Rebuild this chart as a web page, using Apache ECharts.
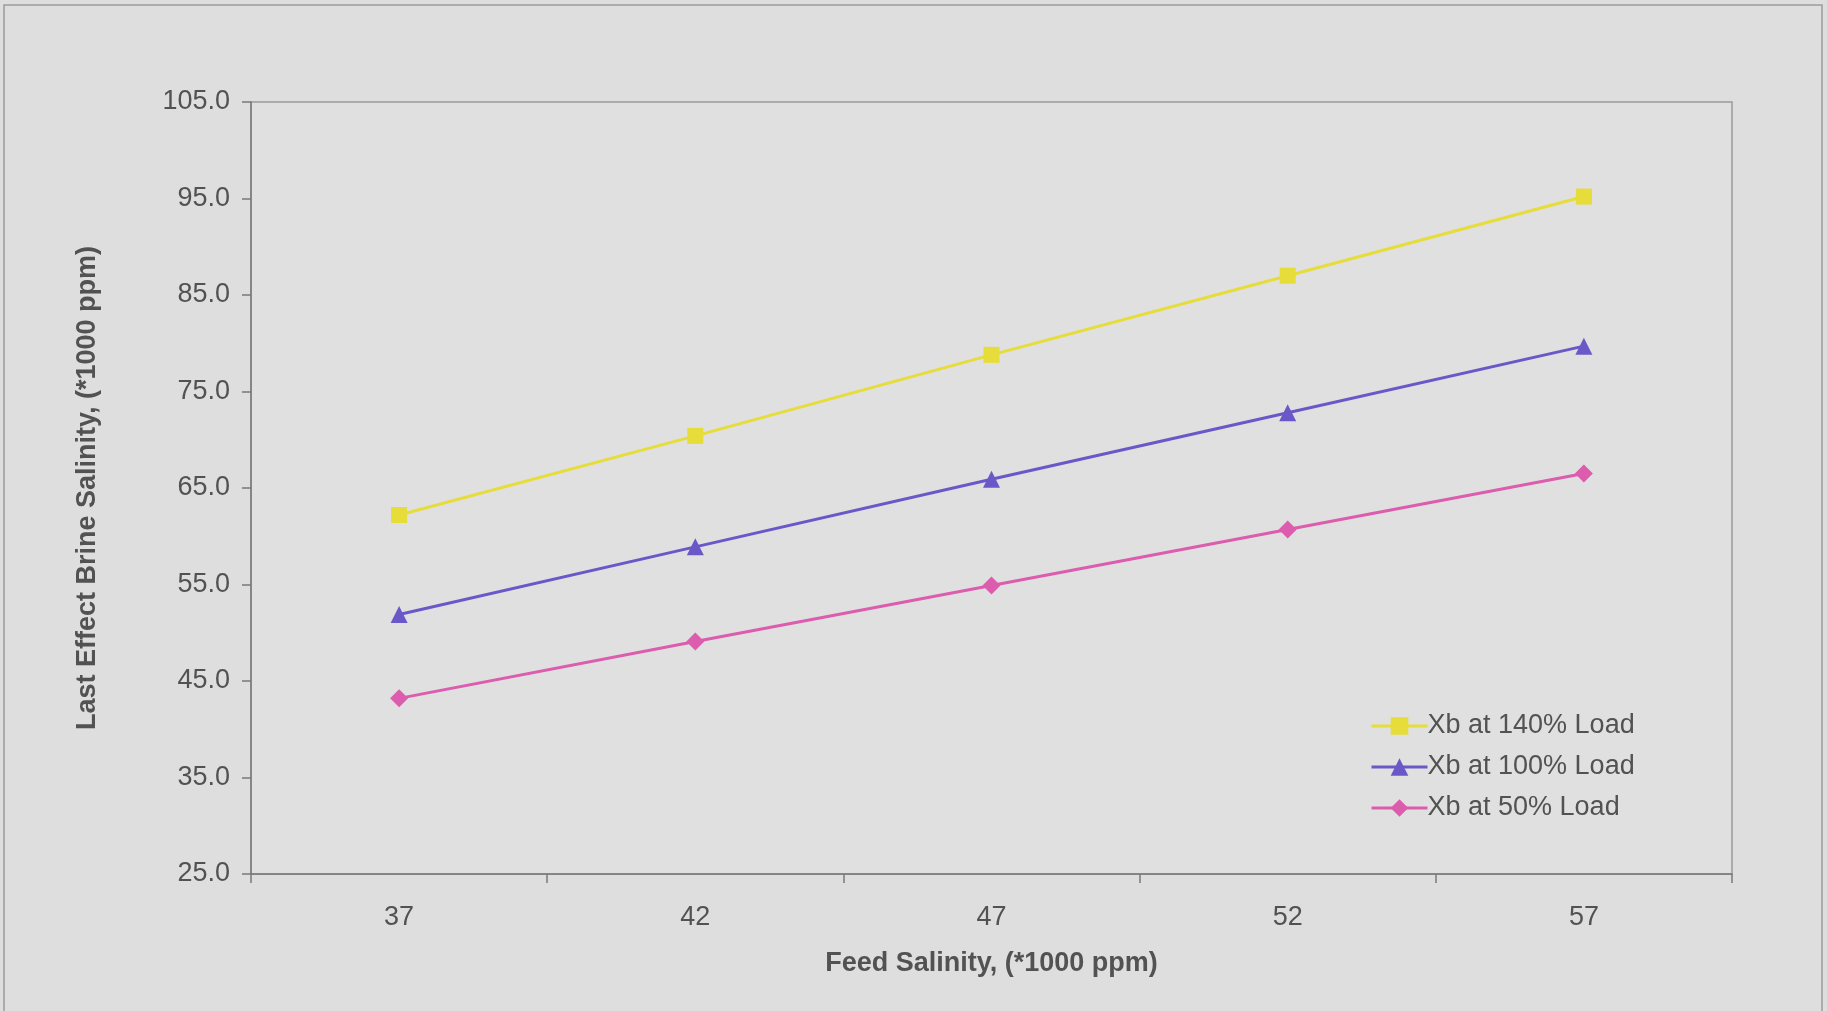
<!DOCTYPE html>
<html>
<head>
<meta charset="utf-8">
<title>Last Effect Brine Salinity vs Feed Salinity</title>
<script src="https://cdn.jsdelivr.net/npm/echarts@6/dist/echarts.min.js"></script>
<style>
  html, body { margin: 0; padding: 0; background: #dedede; }
  #chart { width: 1827px; height: 1011px; }
</style>
</head>
<body>
<div id="chart"></div>
<script>
// Feed salinity (*1000 ppm)
const feedSalinity = ['37', '42', '47', '52', '57'];

// Last-effect brine salinity (*1000 ppm) at three plant loads
const xbLoad140 = [62.2, 70.4, 78.8, 87.0, 95.2];
const xbLoad100 = [51.9, 58.9, 65.9, 72.8, 79.7];
const xbLoad50  = [43.2, 49.1, 54.9, 60.7, 66.5];

const seriesNames = ['Xb at 140% Load', 'Xb at 100% Load', 'Xb at 50% Load'];
const seriesColors = ['#e6dc3a', '#6a58c8', '#dc5cae'];
const seriesSymbols = ['rect', 'triangle', 'diamond'];
const seriesSymbolSizes = [16, 17, 18];
const seriesData = [xbLoad140, xbLoad100, xbLoad50];

const FONT = '"Liberation Sans", Arial, sans-serif';
const TEXT = '#525252';

const chart = echarts.init(document.getElementById('chart'), null, { renderer: 'canvas' });

chart.setOption({
  backgroundColor: '#dedede',
  animation: false,
  graphic: [{
    type: 'rect',
    shape: { x: 4, y: 5, width: 1818, height: 1020 },
    style: { fill: 'none', stroke: '#9c9c9c', lineWidth: 1.5 },
    silent: true,
    z: 0
  }],
  grid: {
    left: 251, right: 95, top: 102, bottom: 137,
    show: true,
    backgroundColor: '#e0e0e0',
    borderColor: '#9a9a9a',
    borderWidth: 1.5
  },
  legend: {
    orient: 'vertical',
    left: 1365,
    top: 707,
    itemWidth: 56,
    itemHeight: 22,
    itemGap: 13,
    data: seriesNames,
    lineStyle: { width: 3 },
    textStyle: { fontFamily: FONT, fontSize: 27, color: TEXT, lineHeight: 28, padding: [0, 0, 0, -5] }
  },
  xAxis: {
    type: 'category',
    data: feedSalinity,
    boundaryGap: true,
    name: 'Feed Salinity, (*1000 ppm)',
    nameLocation: 'middle',
    nameGap: 76,
    nameTextStyle: { fontFamily: FONT, fontSize: 27, fontWeight: 'bold', color: TEXT },
    axisLine: { lineStyle: { color: '#7a7a7a', width: 1.5 } },
    axisTick: { show: true, length: 9, inside: false, lineStyle: { color: '#7a7a7a', width: 1.5 } },
    axisLabel: { fontFamily: FONT, fontSize: 27, color: TEXT, margin: 30 },
    splitLine: { show: false }
  },
  yAxis: {
    type: 'value',
    min: 25,
    max: 105,
    interval: 10,
    name: 'Last Effect Brine Salinity, (*1000 ppm)',
    nameLocation: 'middle',
    nameGap: 150,
    nameRotate: 90,
    nameTextStyle: { fontFamily: FONT, fontSize: 27, fontWeight: 'bold', color: TEXT },
    axisLine: { show: true, lineStyle: { color: '#7a7a7a', width: 1.5 } },
    axisTick: { show: true, length: 9, lineStyle: { color: '#7a7a7a', width: 1.5 } },
    axisLabel: {
      fontFamily: FONT, fontSize: 27, color: TEXT, margin: 21,
      formatter: v => v.toFixed(1)
    },
    splitLine: { show: false }
  },
  series: seriesNames.map((name, i) => ({
    name: name,
    type: 'line',
    data: seriesData[i],
    symbol: seriesSymbols[i],
    symbolSize: seriesSymbolSizes[i],
    showSymbol: true,
    lineStyle: { color: seriesColors[i], width: 3 },
    itemStyle: { color: seriesColors[i] },
    emphasis: { disabled: true }
  }))
});
</script>
</body>
</html>
